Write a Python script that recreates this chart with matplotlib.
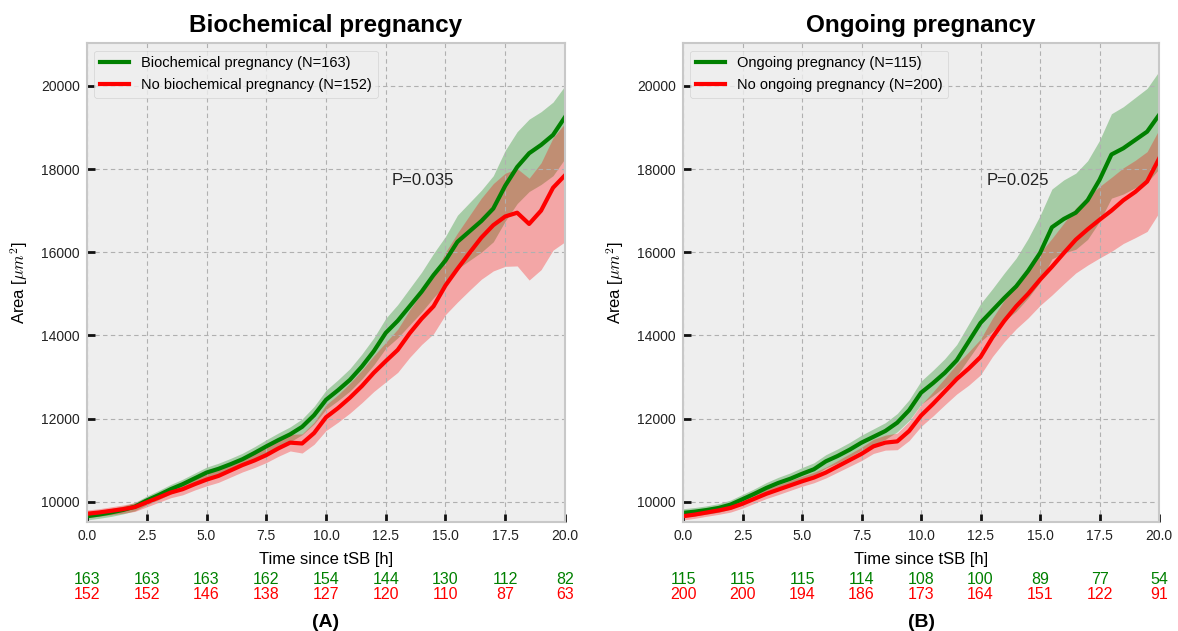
import numpy as np
import matplotlib
matplotlib.use("Agg")
import matplotlib.pyplot as plt

plt.style.use("bmh")
plt.rcParams["font.family"] = ["Liberation Sans", "DejaVu Sans"]

# time grid [h]
t = np.arange(0, 20.01, 0.5)

# ---- panel A: biochemical pregnancy ----
bio_yes = [9650, 9690, 9740, 9800, 9880, 10030, 10160, 10300, 10420, 10560, 10700,
           10790, 10900, 11020, 11170, 11330, 11480, 11620, 11800, 12080, 12450,
           12680, 12930, 13250, 13620, 14060, 14350, 14700, 15050, 15450, 15800,
           16250, 16500, 16750, 17050, 17600, 18050, 18380, 18580, 18820, 19250]
bio_yes_lo = [90, 90, 95, 95, 100, 105, 110, 115, 120, 125, 130, 135, 140, 145, 150,
              160, 170, 180, 190, 210, 230, 250, 270, 300, 330, 370, 410, 450, 490,
              540, 600, 650, 700, 750, 800, 850, 880, 920, 950, 980, 1000]
bio_yes_hi = [90, 90, 95, 95, 100, 105, 110, 115, 120, 125, 130, 135, 140, 145, 150,
              160, 170, 180, 190, 210, 230, 250, 270, 300, 320, 350, 390, 430, 470,
              520, 580, 640, 690, 740, 790, 850, 850, 820, 800, 790, 750]
bio_no = [9710, 9740, 9780, 9820, 9870, 9985, 10100, 10220, 10300, 10420, 10530,
          10620, 10750, 10880, 10990, 11120, 11280, 11420, 11400, 11650, 12030,
          12250, 12500, 12780, 13100, 13380, 13650, 14050, 14400, 14700, 15200,
          15600, 15980, 16350, 16650, 16860, 16950, 16680, 17000, 17550, 17850]
bio_no_lo = [90, 90, 95, 100, 105, 110, 115, 125, 135, 140, 150, 155, 160, 165, 170,
             180, 190, 200, 230, 270, 320, 340, 370, 400, 450, 500, 540, 580, 620,
             660, 700, 800, 900, 1000, 1100, 1200, 1280, 1350, 1420, 1500, 1600]
bio_no_hi = [90, 90, 95, 100, 105, 110, 115, 125, 135, 140, 150, 155, 160, 165, 170,
             180, 190, 200, 230, 260, 300, 320, 350, 380, 410, 450, 500, 560, 620,
             700, 800, 860, 900, 950, 1000, 1040, 1060, 1100, 1150, 1200, 1250]
bio_n_yes = [163, 163, 163, 162, 154, 144, 130, 112, 82]
bio_n_no = [152, 152, 146, 138, 127, 120, 110, 87, 63]

# ---- panel B: ongoing pregnancy ----
ong_yes = [9730, 9760, 9800, 9850, 9930, 10060, 10190, 10330, 10450, 10550, 10670,
           10780, 10970, 11100, 11250, 11420, 11560, 11700, 11900, 12200, 12620,
           12850, 13100, 13400, 13850, 14300, 14600, 14900, 15180, 15550, 15980,
           16600, 16800, 16950, 17250, 17740, 18350, 18500, 18700, 18900, 19300]
ong_yes_lo = [100, 100, 100, 105, 110, 115, 120, 130, 135, 140, 150, 155, 160, 170,
              175, 180, 190, 200, 220, 250, 280, 300, 330, 370, 410, 450, 500, 550,
              600, 650, 700, 760, 820, 880, 940, 1000, 1050, 1100, 1150, 1220, 1300]
ong_yes_hi = [100, 100, 100, 105, 110, 115, 120, 130, 135, 140, 150, 155, 160, 170,
              175, 180, 190, 200, 220, 250, 280, 310, 340, 380, 420, 460, 520, 600,
              680, 780, 900, 920, 940, 950, 950, 950, 980, 1000, 1020, 1040, 1050]
ong_no = [9650, 9690, 9740, 9790, 9850, 9950, 10070, 10190, 10290, 10390, 10490,
          10580, 10700, 10850, 11000, 11150, 11330, 11420, 11450, 11700, 12070,
          12350, 12650, 12950, 13200, 13480, 13950, 14350, 14700, 15000, 15340,
          15650, 15980, 16300, 16550, 16780, 17000, 17250, 17450, 17700, 18250]
ong_no_lo = [90, 90, 90, 95, 100, 105, 110, 115, 120, 120, 120, 125, 130, 140, 150,
             160, 170, 180, 200, 230, 260, 290, 320, 360, 400, 430, 460, 500, 540,
             580, 620, 680, 740, 800, 860, 920, 980, 1040, 1100, 1200, 1300]
ong_no_hi = [90, 90, 90, 95, 100, 105, 110, 115, 120, 120, 120, 125, 130, 140, 150,
             160, 170, 180, 200, 230, 260, 290, 320, 360, 400, 430, 460, 500, 540,
             580, 640, 680, 720, 760, 780, 800, 800, 780, 760, 720, 700]
ong_n_yes = [115, 115, 115, 114, 108, 100, 89, 77, 54]
ong_n_no = [200, 200, 194, 186, 173, 164, 151, 122, 91]

count_ticks = [0, 2.5, 5, 7.5, 10, 12.5, 15, 17.5, 20]

panels = [
    dict(title="Biochemical pregnancy", tag="(A)", p="P=0.035",
         yes=bio_yes, yes_lo=bio_yes_lo, yes_hi=bio_yes_hi,
         no=bio_no, no_lo=bio_no_lo, no_hi=bio_no_hi,
         lab_yes="Biochemical pregnancy (N=163)",
         lab_no="No biochemical pregnancy (N=152)",
         n_yes=bio_n_yes, n_no=bio_n_no),
    dict(title="Ongoing pregnancy", tag="(B)", p="P=0.025",
         yes=ong_yes, yes_lo=ong_yes_lo, yes_hi=ong_yes_hi,
         no=ong_no, no_lo=ong_no_lo, no_hi=ong_no_hi,
         lab_yes="Ongoing pregnancy (N=115)",
         lab_no="No ongoing pregnancy (N=200)",
         n_yes=ong_n_yes, n_no=ong_n_no),
]

fig = plt.figure(figsize=(11.78, 6.31), dpi=100)
fig.patch.set_facecolor("white")
boxes = [[0.0739, 0.172, 0.4057, 0.7594], [0.5798, 0.172, 0.4041, 0.7594]]

for box, d in zip(boxes, panels):
    ax = fig.add_axes(box)
    yes = np.array(d["yes"])
    no = np.array(d["no"])
    ax.fill_between(t, yes - np.array(d["yes_lo"]), yes + np.array(d["yes_hi"]),
                    color="green", alpha=0.3, lw=0)
    ax.fill_between(t, no - np.array(d["no_lo"]), no + np.array(d["no_hi"]),
                    color="red", alpha=0.3, lw=0)
    ax.plot(t, yes, color="green", lw=3, label=d["lab_yes"])
    ax.plot(t, no, color="red", lw=3, label=d["lab_no"])
    ax.set_xlim(0, 20)
    ax.set_ylim(9500, 21025)
    ax.set_xticks(count_ticks)
    ax.set_yticks([10000, 12000, 14000, 16000, 18000, 20000])
    ax.tick_params(labelsize=10, labelcolor="#222222", direction="in",
                   length=6, width=2, color="#111111", pad=5,
                   bottom=True, left=True, top=False, right=False)
    ax.grid(True, color="#b0b0b0", linestyle=(0, (4, 3)), linewidth=0.8)
    for s in ax.spines.values():
        s.set_color("#c8c8c8")
        s.set_linewidth(1.5)
    ax.set_xlabel("Time since tSB [h]", fontsize=12, labelpad=6)
    ax.set_ylabel(r"Area [$\mu m^2$]", fontsize=12, labelpad=8)
    ax.set_title(d["title"], fontsize=17.5, fontweight="bold", pad=8)
    ax.legend(loc="upper left", fontsize=10.5)
    ax.text(12.76, 17716, d["p"], fontsize=12, va="center", color="#222222")
    tr = ax.get_xaxis_transform()
    for x, ny, nn in zip(count_ticks, d["n_yes"], d["n_no"]):
        ax.text(x, -0.118, str(ny), color="green", ha="center", va="center",
                fontsize=11.5, transform=tr)
        ax.text(x, -0.151, str(nn), color="red", ha="center", va="center",
                fontsize=11.5, transform=tr)
    ax.text(0.5, -0.209, d["tag"], ha="center", va="center", fontsize=14,
            fontweight="bold", transform=ax.transAxes)

fig.savefig("out.png", dpi=100)
